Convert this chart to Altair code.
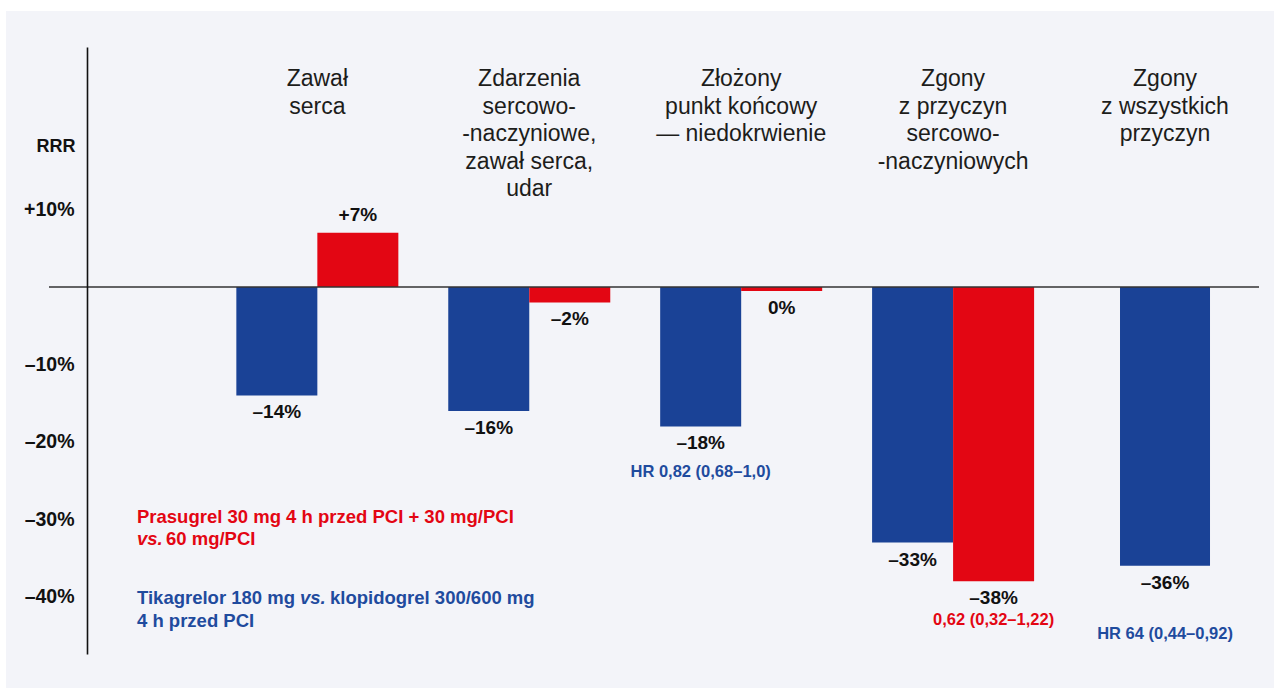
import altair as alt
import pandas as pd

# ---------------- data ----------------
categories = [
    "Zawał\nserca",
    "Zdarzenia\nsercowo-\n-naczyniowe,\nzawał serca,\nudar",
    "Złożony\npunkt końcowy\n— niedokrwienie",
    "Zgony\nz przyczyn\nsercowo-\n-naczyniowych",
    "Zgony\nz wszystkich\nprzyczyn",
]
series = ["Tikagrelor", "Prasugrel"]
tik_values = [-14, -16, -18, -33, -36]
tik_labels = ["–14%", "–16%", "–18%", "–33%", "–36%"]
pra_values = [7, -2, -0.5, -38]
pra_labels = ["+7%", "–2%", "0%", "–38%"]
hr_groups = [2, 3, 4]
hr_series = ["Tikagrelor", "Prasugrel", "Tikagrelor"]
hr_texts = ["HR 0,82 (0,68–1,0)", "0,62 (0,32–1,22)", "HR 64 (0,44–0,92)"]
y_ticks = [10, -10, -20, -30, -40]
y_title = "RRR"
legend_red_1 = "Prasugrel 30 mg 4 h przed PCI + 30 mg/PCI"
legend_red_2 = ["vs.", "60 mg/PCI"]
legend_blue_1 = ["Tikagrelor 180 mg", "vs.", "klopidogrel 300/600 mg"]
legend_blue_2 = "4 h przed PCI"

BLUE = "#1a4296"
RED = "#e30613"
TXT_BLUE = "#1f4b9e"
BG = "#f3f4f9"
FONT = "Liberation Sans"

rows = []
for i, (v, l) in enumerate(zip(tik_values, tik_labels)):
    rows.append(dict(g=i, cat=categories[i], series="Tikagrelor", value=v, label=l))
for i, (v, l) in enumerate(zip(pra_values, pra_labels)):
    rows.append(dict(g=i, cat=categories[i], series="Prasugrel", value=v, label=l))
bars = pd.DataFrame(rows)

hr_rows = []
for g, s, t in zip(hr_groups, hr_series, hr_texts):
    v = bars[(bars.g == g) & (bars.series == s)].value.iloc[0]
    hr_rows.append(dict(g=g, cat=categories[g], series=s, value=v, text=t))
hr = pd.DataFrame(hr_rows)

titles = pd.DataFrame({"cat": categories})

W, H = 1172, 607

xscale = alt.Scale(domain=categories, paddingInner=0.2355, paddingOuter=0.383, align=0.92)
yscale = alt.Scale(domain=[-47.4, 31.0], nice=False, zero=False)
yaxis = alt.Axis(
    values=y_ticks,
    labelExpr="datum.value > 0 ? '+' + datum.value + '%' : '–' + abs(datum.value) + '%'",
    ticks=False, grid=False, domain=True, domainColor="#111111", domainWidth=1.6,
    labelFont=FONT, labelFontSize=19.5, labelFontWeight="bold", labelColor="#111111",
    labelPadding=13, zindex=1,
    title=y_title, titleAngle=0, titleX=-12, titleY=99, titleAlign="right",
    titleBaseline="middle", titleFont=FONT, titleFontSize=18, titleFontWeight="bold",
    titleColor="#111111",
)
xenc = alt.X("cat:N", scale=xscale, axis=None, sort=categories)
yenc = alt.Y("value:Q", scale=yscale, axis=yaxis)
xoff = alt.XOffset("series:N", scale=alt.Scale(domain=series, paddingInner=0, paddingOuter=0))
colenc = alt.Color("series:N", scale=alt.Scale(domain=series, range=[BLUE, RED]), legend=None)

base = alt.Chart(bars)

bg = alt.Chart(alt.Data(values=[{}])).mark_rect(color=BG).encode(
    x=alt.value(-81), x2=alt.value(W + 15), y=alt.value(-36), y2=alt.value(H + 34)
)

zero = alt.Chart(pd.DataFrame({"value": [0]})).mark_rule(color="#333333", strokeWidth=1.6).encode(
    y=yenc, x=alt.value(-38), x2=alt.value(W)
)

pair_bars = base.transform_filter("datum.g < 4").mark_bar().encode(
    x=xenc, xOffset=xoff, y=yenc, y2=alt.datum(0), color=colenc
)
single_bar = base.transform_filter("datum.g == 4").mark_bar(size=90).encode(
    x=xenc, y=yenc, y2=alt.datum(0), color=colenc
)

lbl_style = dict(font=FONT, fontSize=19, fontWeight="bold", color="#111111")
neg_lbl = base.transform_filter("datum.g < 4 && datum.value <= 0").mark_text(
    baseline="top", dy=8, **lbl_style
).encode(x=xenc, xOffset=xoff, y=yenc, text="label:N")
pos_lbl = base.transform_filter("datum.g < 4 && datum.value > 0").mark_text(
    baseline="alphabetic", dy=-12, **lbl_style
).encode(x=xenc, xOffset=xoff, y=yenc, text="label:N")
single_lbl = base.transform_filter("datum.g == 4").mark_text(
    baseline="top", dy=8, **lbl_style
).encode(x=xenc, y=yenc, text="label:N")

hr_base = alt.Chart(hr)
hr_style = dict(font=FONT, fontSize=16.5, fontWeight="bold", baseline="alphabetic")
hr1 = hr_base.transform_filter("datum.g == 2").mark_text(dy=51, color=TXT_BLUE, **hr_style).encode(
    x=xenc, xOffset=xoff, y=yenc, text="text:N")
hr2 = hr_base.transform_filter("datum.g == 3").mark_text(dy=44, color=RED, **hr_style).encode(
    x=xenc, xOffset=xoff, y=yenc, text="text:N")
hr3 = hr_base.transform_filter("datum.g == 4").mark_text(dy=73, color=TXT_BLUE, **hr_style).encode(
    x=xenc, y=yenc, text="text:N")

title_txt = alt.Chart(titles).mark_text(
    font=FONT, fontSize=23, lineBreak="\n", lineHeight=27.5, baseline="top",
    align="center", color="#1d1d1b"
).encode(x=xenc, y=alt.value(21), text="cat:N")


def leg(text, x, y, color, italic=False):
    return alt.Chart(pd.DataFrame({"t": [text]})).mark_text(
        font=FONT, fontSize=18.5, fontWeight="bold", fontStyle="italic" if italic else "normal",
        align="left", baseline="alphabetic", color=color
    ).encode(x=alt.value(x), y=alt.value(y), text="t:N")


legend_layers = [
    leg(legend_red_1, 50, 476, RED),
    leg(legend_red_2[0], 50, 498, RED, italic=True),
    leg(legend_red_2[1], 79, 498, RED),
    leg(legend_blue_1[0], 50, 557, TXT_BLUE),
    leg(legend_blue_1[1], 213, 557, TXT_BLUE, italic=True),
    leg(legend_blue_1[2], 243, 557, TXT_BLUE),
    leg(legend_blue_2, 50, 580, TXT_BLUE),
]

chart = alt.layer(
    bg, pair_bars, single_bar, zero, neg_lbl, pos_lbl, single_lbl, hr1, hr2, hr3, title_txt,
    *legend_layers
).properties(
    width=W, height=H,
    autosize=alt.AutoSizeParams(type="none"),
    padding={"left": 87, "top": 47, "right": 15, "bottom": 34},
    background="white",
).configure_view(stroke=None)

chart.save("out.html", embed_options={"renderer": "svg", "actions": False})
